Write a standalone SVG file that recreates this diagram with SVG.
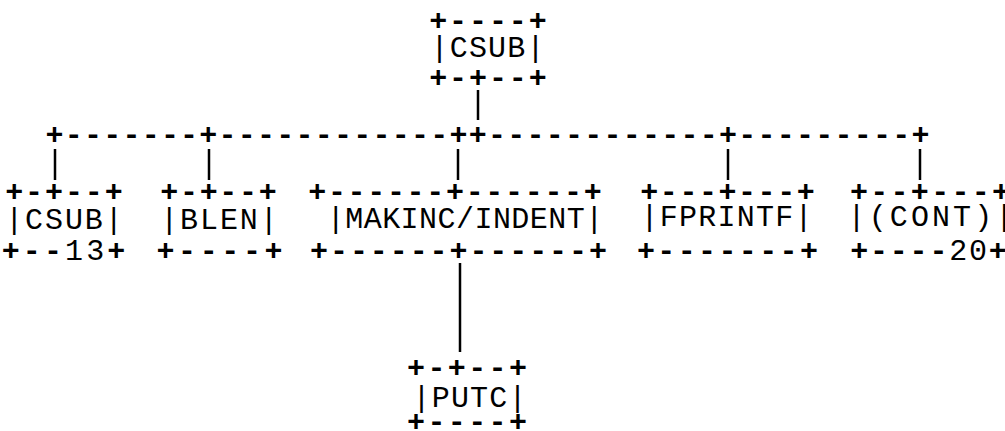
<svg xmlns="http://www.w3.org/2000/svg" width="1005" height="431" viewBox="0 0 1005 431">
<style>
text{font-family:"Liberation Mono","DejaVu Sans Mono",monospace;font-size:30px;fill:#000;white-space:pre}
text.b{font-weight:bold}
tspan.n{font-weight:normal}
.c line{stroke:#000;stroke-width:2.5}
</style>
<rect width="1005" height="431" fill="#fff"/>
<g id="connectors" class="c">
<line x1="478" y1="90" x2="478" y2="120"/>
<text class="b" x="45.4" y="144" textLength="884.1" lengthAdjust="spacing">+-------+------------++------------+---------+</text>
<line x1="55" y1="149" x2="55" y2="180"/>
<line x1="209" y1="149" x2="209" y2="180"/>
<line x1="458" y1="149" x2="458" y2="180"/>
<line x1="728" y1="149" x2="728" y2="180"/>
<line x1="920" y1="149" x2="920" y2="180"/>
<line x1="460" y1="263" x2="460" y2="352"/>
</g>
<g id="csub-root">
<text class="b" x="429.2" y="30" textLength="117.6" lengthAdjust="spacing">+----+</text>
<text x="430.5" y="57" textLength="114" lengthAdjust="spacing">|CSUB|</text>
<text class="b" x="429.2" y="87" textLength="117.6" lengthAdjust="spacing">+-+--+</text>
</g>
<g id="csub-13">
<text class="b" x="5.2" y="201" textLength="117.6" lengthAdjust="spacing">+-+--+</text>
<text x="5.2" y="229" textLength="117.6" lengthAdjust="spacing">|CSUB|</text>
<text class="b" x="1.7" y="260" textLength="123.6" lengthAdjust="spacing">+--<tspan class="n">13</tspan>+</text>
</g>
<g id="blen">
<text class="b" x="160.3" y="201" textLength="116.4" lengthAdjust="spacing">+-+--+</text>
<text x="160.2" y="229" textLength="117.6" lengthAdjust="spacing">|BLEN|</text>
<text class="b" x="156.5" y="260" textLength="126" lengthAdjust="spacing">+----+</text>
</g>
<g id="makinc">
<text class="b" x="308.2" y="201" textLength="293.6" lengthAdjust="spacing">+------+------+</text>
<text x="326.8" y="228" textLength="276.4" lengthAdjust="spacing">|MAKINC/INDENT|</text>
<text class="b" x="310.1" y="260" textLength="296.8" lengthAdjust="spacing">+------+------+</text>
</g>
<g id="fprintf">
<text class="b" x="640.3" y="201" textLength="174.4" lengthAdjust="spacing">+---+---+</text>
<text x="640.4" y="226" textLength="172.1" lengthAdjust="spacing">|FPRINTF|</text>
<text class="b" x="636.9" y="260" textLength="181.1" lengthAdjust="spacing">+-------+</text>
</g>
<g id="cont">
<text class="b" x="850" y="201" textLength="160" lengthAdjust="spacing">+--+---+</text>
<text x="847.6" y="226" textLength="165.7" lengthAdjust="spacing">|(CONT)|</text>
<text class="b" x="850.2" y="260" textLength="156.6" lengthAdjust="spacing">+----<tspan class="n">20</tspan>+</text>
</g>
<g id="putc">
<text class="b" x="407" y="377" textLength="120" lengthAdjust="spacing">+-+--+</text>
<text x="412.5" y="407" textLength="114" lengthAdjust="spacing">|PUTC|</text>
<text class="b" x="407" y="431" textLength="120" lengthAdjust="spacing">+----+</text>
</g>
</svg>
